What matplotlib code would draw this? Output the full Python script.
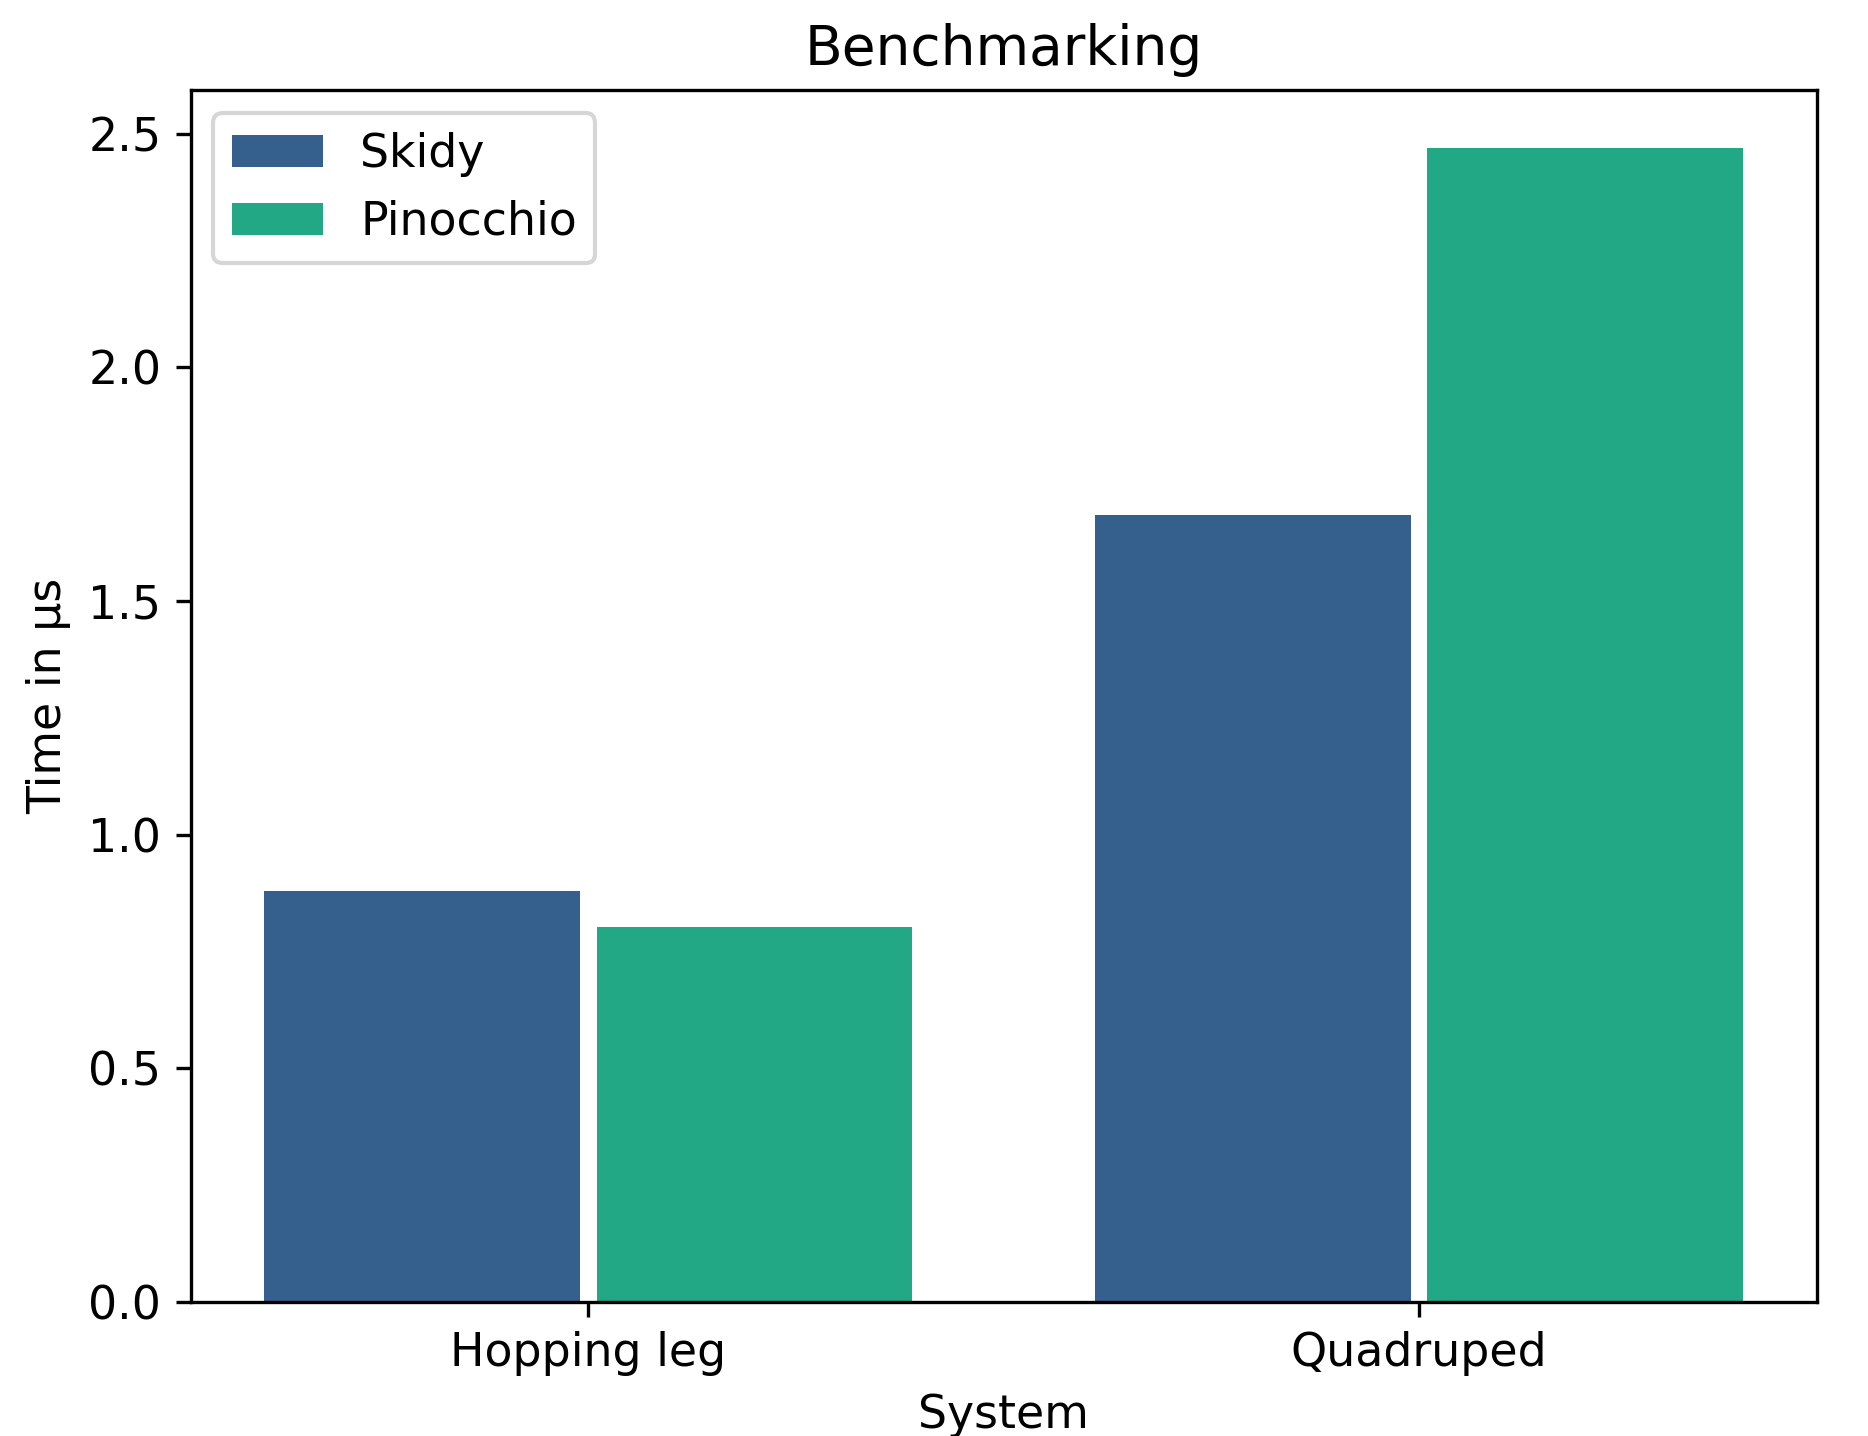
import numpy as np
import matplotlib.pyplot as plt

# Benchmark data
systems = ['Hopping leg', 'Quadruped']
skidy_times = [0.88, 1.683]
pinocchio_times = [0.803, 2.469]

plt.rcParams['font.size'] = 11

x = np.arange(len(systems))
width = 0.38

fig, ax = plt.subplots(figsize=(1868 / 300, 1436 / 300), dpi=300)
fig.subplots_adjust(left=0.102, right=0.9726, top=0.937, bottom=0.0933)

ax.bar(x - 0.2, skidy_times, width, label='Skidy', color='#355f8d')
ax.bar(x + 0.2, pinocchio_times, width, label='Pinocchio', color='#22a884')

ax.set_xticks(x)
ax.set_xticklabels(systems)
ax.set_title('Benchmarking')
ax.set_xlabel('System')
ax.set_ylabel('Time in µs')
ax.legend(loc='upper left')

fig.savefig('out.png', dpi=300)
